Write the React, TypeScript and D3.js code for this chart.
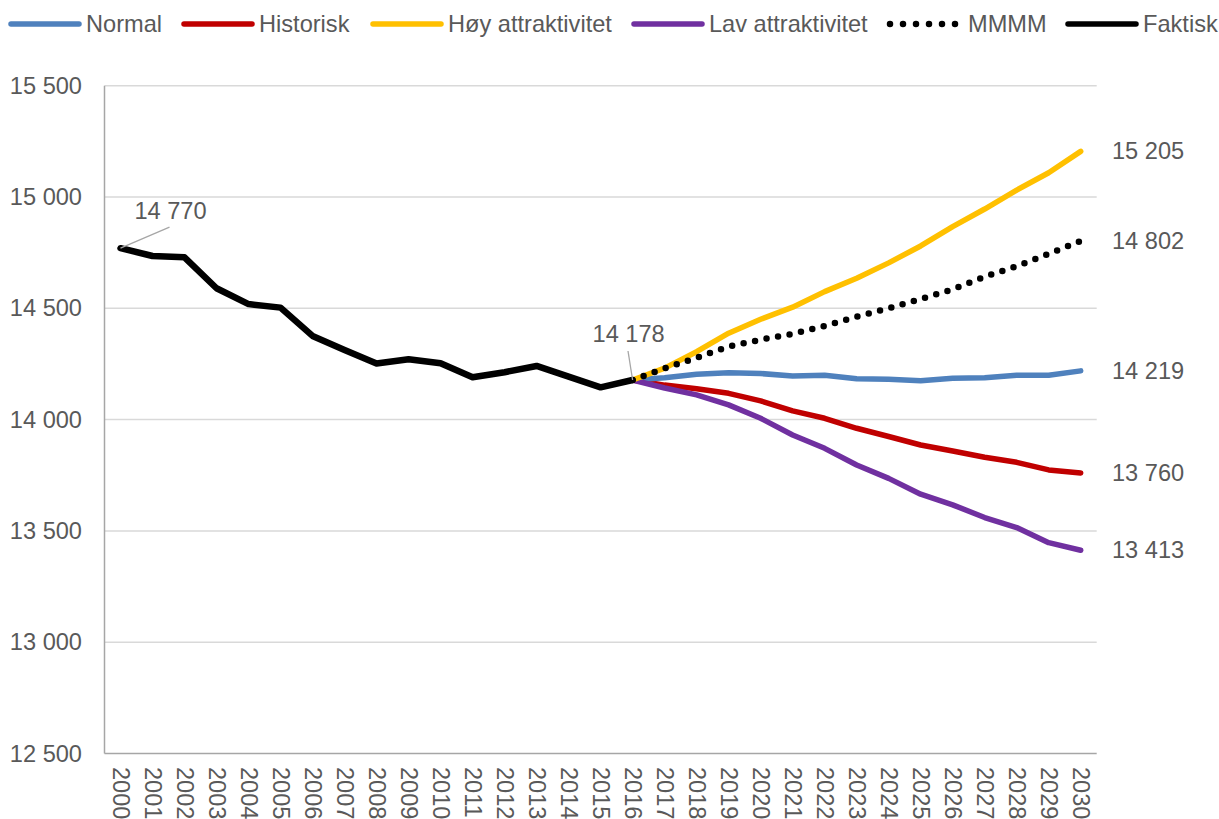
import React from "react";
import * as d3 from "d3";

const years: number[] = d3.range(2000, 2031);
const actualYears: number[] = d3.range(2000, 2017);
const projYears: number[] = d3.range(2016, 2031);

const faktisk = [14770, 14735, 14729, 14590, 14519, 14503, 14376, 14313, 14252, 14271, 14253, 14190, 14213, 14241, 14193, 14145, 14178];
const normal = [14178, 14188, 14204, 14210, 14207, 14196, 14199, 14184, 14181, 14175, 14186, 14188, 14199, 14199, 14219];
const historisk = [14178, 14155, 14139, 14118, 14084, 14039, 14006, 13961, 13924, 13886, 13859, 13831, 13808, 13774, 13760];
const hoy = [14178, 14231, 14305, 14388, 14451, 14505, 14575, 14635, 14704, 14780, 14867, 14946, 15031, 15109, 15205];
const lav = [14178, 14142, 14111, 14066, 14006, 13931, 13871, 13796, 13736, 13665, 13617, 13560, 13515, 13447, 13413];
const mmmm = [14178, 14230, 14278, 14328, 14359, 14385, 14421, 14462, 14500, 14542, 14585, 14642, 14689, 14745, 14802];

const yTicks = [12500, 13000, 13500, 14000, 14500, 15000, 15500];
const legendLabels = ["Normal", "Historisk", "Høy attraktivitet", "Lav attraktivitet", "MMMM", "Faktisk"];

const FONT = "'Liberation Sans', Arial, sans-serif";
const TXT = "#595959";
const FS = 23.6;

const fmt = (v: number) => d3.format(",")(v).replace(/,/g, " ");

export default function App() {
  const W = 1219, H = 819;
  const left = 104.5, right = 1096.7, top = 85.7, bottom = 753.5;
  const x = d3.scalePoint<number>().domain(years).range([left, right]).padding(0.5);
  const y = d3.scaleLinear().domain([12500, 15500]).range([bottom, top]);
  const line = d3.line<[number, number]>().x(d => x(d[0])!).y(d => y(d[1]));

  const proj = [
    { name: "Historisk", vals: historisk, color: "#c00000", dotted: false },
    { name: "Normal", vals: normal, color: "#4f81bd", dotted: false },
    { name: "Lav attraktivitet", vals: lav, color: "#7030a0", dotted: false },
    { name: "Høy attraktivitet", vals: hoy, color: "#ffc000", dotted: false },
    { name: "MMMM", vals: mmmm, color: "#000000", dotted: true },
  ];

  const legendColors = ["#4f81bd", "#c00000", "#ffc000", "#7030a0", "#000000", "#000000"];
  const legendX = [9, 182, 371, 632, 890, 1066];
  const legendY = 24;

  const p0: [number, number] = [x(2000)!, y(faktisk[0])];
  const p16: [number, number] = [x(2016)!, y(faktisk[faktisk.length - 1])];

  return (
    <div style={{ position: "absolute", left: 0, top: 0 }}>
      <svg width={W} height={H} style={{ display: "block", background: "#fff" }} fontFamily={FONT}>
        {yTicks.slice(1).map(t => (
          <line key={t} x1={left} x2={right} y1={y(t)} y2={y(t)} stroke="#d9d9d9" strokeWidth={1.5} />
        ))}
        <line x1={left} x2={left} y1={top} y2={bottom} stroke="#a6a6a6" strokeWidth={1.5} />
        <line x1={left} x2={right} y1={bottom} y2={bottom} stroke="#a6a6a6" strokeWidth={1.5} />
        {yTicks.map(t => (
          <text key={t} x={82} y={y(t)} textAnchor="end" dominantBaseline="central" fontSize={FS} fill={TXT}>{fmt(t)}</text>
        ))}
        {years.map(yr => (
          <text key={yr} transform={`translate(${x(yr)},767) rotate(90)`} dominantBaseline="central" fontSize={FS} fill={TXT}>{yr}</text>
        ))}
        {proj.map(s => (
          <path key={s.name} d={line(projYears.map((yr, i) => [yr, s.vals[i]]))!} fill="none" stroke={s.color}
            strokeWidth={s.dotted ? 6.5 : 5.5} strokeLinecap="round" strokeLinejoin="round"
            strokeDasharray={s.dotted ? "0 11.7" : undefined} />
        ))}
        <path d={line(actualYears.map((yr, i) => [yr, faktisk[i]]))!} fill="none" stroke="#000" strokeWidth={6.5} strokeLinecap="round" strokeLinejoin="round" />
        <line x1={p0[0]} y1={p0[1]} x2={p0[0] + 49} y2={p0[1] - 21} stroke="#a6a6a6" strokeWidth={1.3} />
        <text x={p0[0] + 50} y={p0[1] - 28.8} textAnchor="middle" fontSize={FS} fill={TXT}>{fmt(faktisk[0])}</text>
        <line x1={p16[0]} y1={p16[1]} x2={p16[0] - 4.6} y2={p16[1] - 29} stroke="#a6a6a6" strokeWidth={1.3} />
        <text x={p16[0] - 4} y={p16[1] - 38.3} textAnchor="middle" fontSize={FS} fill={TXT}>{fmt(faktisk[faktisk.length - 1])}</text>
        {proj.map(s => (
          <text key={s.name} x={1112} y={y(s.vals[s.vals.length - 1])} dominantBaseline="central" fontSize={FS} fill={TXT}>{fmt(s.vals[s.vals.length - 1])}</text>
        ))}
        {legendLabels.map((lab, i) => {
          const lx = legendX[i];
          const dotted = lab === "MMMM";
          return (
            <g key={lab}>
              {dotted ? (
                <line x1={lx} x2={lx + 66} y1={legendY} y2={legendY} stroke="#000" strokeWidth={6.5} strokeLinecap="round" strokeDasharray="0 13" />
              ) : (
                <line x1={lx + 2} x2={lx + 70} y1={legendY} y2={legendY} stroke={legendColors[i]} strokeWidth={5.5} strokeLinecap="round" />
              )}
              <text x={dotted ? lx + 78 : lx + 77} y={legendY} dominantBaseline="central" fontSize={FS} fill={TXT}>{lab}</text>
            </g>
          );
        })}
      </svg>
    </div>
  );
}
